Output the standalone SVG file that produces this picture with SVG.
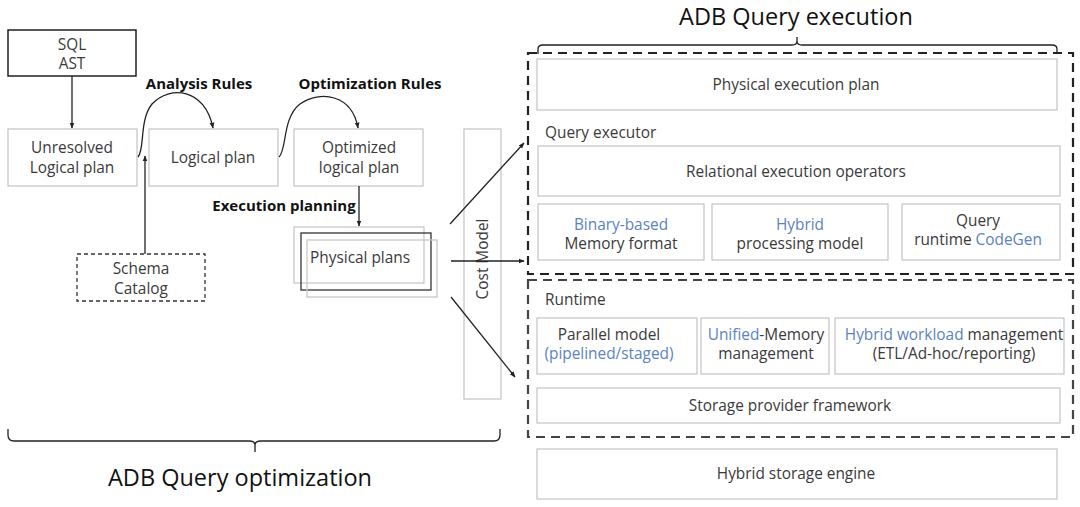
<svg xmlns="http://www.w3.org/2000/svg" width="1080" height="507" viewBox="0 0 1080 507">
<defs>
<marker id="ah" viewBox="0 0 10 10" refX="9" refY="5" markerWidth="6" markerHeight="6" orient="auto-start-reverse" markerUnits="userSpaceOnUse">
<path d="M0,1 L10,5 L0,9 z" fill="#222"/>
</marker>
<style>
.t{font-family:"Open Sans","Noto Sans",sans-serif;font-size:15.4px;fill:#3a3a3a;text-anchor:middle}
.tl{font-family:"Open Sans","Noto Sans",sans-serif;font-size:15.4px;fill:#3a3a3a}
.b{font-family:"Open Sans","Noto Sans",sans-serif;font-size:15px;font-weight:bold;fill:#111;text-anchor:middle}
.h{font-family:"Open Sans","Noto Sans",sans-serif;font-size:23.5px;fill:#111;text-anchor:middle}
.blue{fill:#5b82c2}
.box{fill:#fff;stroke:#c8c8c8;stroke-width:1.3}
.dash{fill:none;stroke:#222;stroke-width:2.2;stroke-dasharray:9,6}
.dashg{fill:none;stroke:#444;stroke-width:2.2;stroke-dasharray:9,6}
.ln{fill:none;stroke:#222;stroke-width:1.3}
</style>
</defs>
<rect width="1080" height="507" fill="#fff"/>

<!-- left -->
<g id="sql-ast"><rect x="8" y="30" width="128" height="46" fill="#fff" stroke="#111" stroke-width="1.4"/>
<text class="t" x="72" y="50">SQL</text><text class="t" x="72" y="69">AST</text></g>
<g id="unresolved"><rect class="box" x="8" y="129" width="129" height="57"/>
<text class="t" x="72" y="153">Unresolved</text><text class="t" x="72" y="173">Logical plan</text></g>
<g id="logical"><rect class="box" x="149" y="129" width="129" height="57"/>
<text class="t" x="213" y="163">Logical plan</text></g>
<g id="optimized"><rect class="box" x="294" y="129" width="129" height="57"/>
<text class="t" x="359" y="153">Optimized</text><text class="t" x="359" y="173">logical plan</text></g>
<g id="schema"><rect x="77" y="254" width="128" height="47" fill="#fff" stroke="#333" stroke-width="1.3" stroke-dasharray="4,3"/>
<text class="t" x="141" y="274">Schema</text><text class="t" x="141" y="294">Catalog</text></g>
<g id="physical-plans">
<rect class="box" x="294" y="227" width="130" height="56" fill="none"/>
<rect x="301" y="233" width="130" height="57" fill="none" stroke="#333" stroke-width="1.3"/>
<rect x="307" y="240" width="130" height="57" fill="none" stroke="#c8c8c8" stroke-width="1.3"/>
<text class="tl" x="310" y="263">Physical plans</text></g>
<g id="cost-model"><rect class="box" x="464" y="129" width="37" height="270" fill="none"/>
<text class="t" x="0" y="0" transform="translate(488,259) rotate(-90)">Cost Model</text></g>

<g id="labels">
<text class="b" x="199" y="89">Analysis Rules</text>
<text class="b" x="370" y="89">Optimization Rules</text>
<text class="b" x="284" y="211">Execution planning</text>
<text class="h" x="240" y="486">ADB Query optimization</text>
<text class="h" x="796" y="25">ADB Query execution</text>
</g>

<g id="braces" class="ln">
<path d="M8,429 L8,435 Q8,441 14,441 L249,441 Q255,441 255,445 L255,452 M255,445 Q255,441 261,441 L494,441 Q500,441 500,435 L500,429"/>
<path d="M538,54 L538,49 Q538,45 543,45 L792,45 Q797,45 797,41 L797,37 M797,41 Q797,45 802,45 L1052,45 Q1057,45 1057,49 L1057,54"/>
</g>

<g id="connectors" class="ln">
<line x1="72" y1="76" x2="72" y2="128" marker-end="url(#ah)"/>
<path d="M138,157 C145,150 139,120 152,104 C170,85 205,88 213,128" marker-end="url(#ah)"/>
<path d="M279,157 C287,150 282,118 300,104 C320,90 352,94 358,128" marker-end="url(#ah)"/>
<line x1="145" y1="254" x2="145" y2="156" marker-end="url(#ah)"/>
<line x1="359" y1="186" x2="359" y2="226" marker-end="url(#ah)"/>
<line x1="450" y1="224" x2="524" y2="143" marker-end="url(#ah)"/>
<line x1="451" y1="261" x2="524" y2="261" marker-end="url(#ah)"/>
<line x1="451" y1="297" x2="515" y2="377" marker-end="url(#ah)"/>
</g>

<!-- right -->
<g id="query-exec-frame"><rect class="dash" x="528" y="53" width="545" height="221"/></g>
<g id="phys-exec-plan"><rect class="box" x="537" y="59" width="520" height="51"/>
<text class="t" x="796" y="90">Physical execution plan</text></g>
<g id="query-executor-label"><text class="tl" x="545" y="138">Query executor</text></g>
<g id="relational"><rect class="box" x="538" y="146" width="522" height="50"/>
<text class="t" x="796" y="177">Relational execution operators</text></g>
<g id="binary"><rect class="box" x="538" y="204" width="166" height="56"/>
<text class="t blue" x="621" y="230">Binary-based</text><text class="t" x="621" y="249">Memory format</text></g>
<g id="hybrid-proc"><rect class="box" x="712" y="204" width="176" height="56"/>
<text class="t blue" x="800" y="230">Hybrid</text><text class="t" x="800" y="249">processing model</text></g>
<g id="codegen"><rect class="box" x="902" y="204" width="158" height="56"/>
<text class="t" x="978" y="226">Query</text><text class="t" x="978" y="245">runtime <tspan class="blue">CodeGen</tspan></text></g>

<g id="runtime-frame"><rect class="dashg" x="528" y="280" width="545" height="157"/></g>
<g id="runtime-label"><text class="tl" x="545" y="305">Runtime</text></g>
<g id="parallel"><rect class="box" x="537" y="318" width="160" height="56"/>
<text class="t" x="609" y="340">Parallel model</text><text class="t blue" x="609" y="359">(pipelined/staged)</text></g>
<g id="unified"><rect class="box" x="701" y="318" width="128" height="56"/>
<text class="t" x="766" y="340"><tspan class="blue">Unified</tspan>-Memory</text><text class="t" x="766" y="359">management</text></g>
<g id="workload"><rect class="box" x="835" y="318" width="229" height="56"/>
<text class="t" x="954" y="340"><tspan class="blue">Hybrid workload</tspan> management</text><text class="t" x="954" y="359">(ETL/Ad-hoc/reporting)</text></g>
<g id="storage-provider"><rect class="box" x="537" y="388" width="523" height="35"/>
<text class="t" x="790" y="411">Storage provider framework</text></g>
<g id="hybrid-storage"><rect class="box" x="537" y="449" width="520" height="50"/>
<text class="t" x="796" y="479">Hybrid storage engine</text></g>
</svg>
